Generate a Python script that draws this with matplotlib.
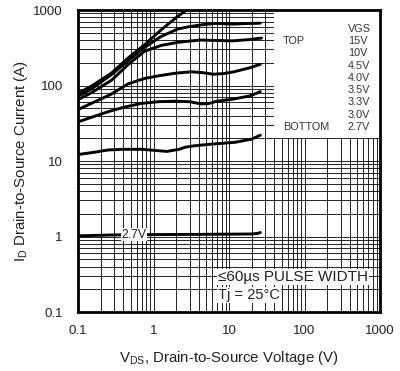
import matplotlib
matplotlib.use("Agg")
import matplotlib.pyplot as plt
from matplotlib.patches import Rectangle
from matplotlib.ticker import FixedLocator, FixedFormatter, NullFormatter, LogLocator

plt.rcParams['font.family'] = ['Liberation Sans', 'DejaVu Sans']
plt.rcParams['mathtext.default'] = 'regular'

# curves (VDS in V, ID in A)
v15 = [0.1, 0.15, 0.28, 0.46, 0.76, 1.3, 2.1, 2.75]
i15 = [79, 98, 147, 231, 347, 560, 825, 1000]

v10 = [0.1, 0.15, 0.28, 0.46, 0.76, 1.27, 2.1, 2.9, 4.5, 6.9, 11, 16, 26]
i10 = [72, 90, 140, 213, 320, 448, 560, 600, 640, 666, 650, 660, 670]

v45 = [0.1, 0.15, 0.28, 0.46, 0.76, 1.27, 2.1, 4.1, 7, 11, 18, 27]
i45 = [65, 80, 118, 189, 284, 340, 373, 400, 395, 390, 405, 425]

v40 = [0.1, 0.15, 0.27, 0.46, 0.76, 1.2, 2.0, 3.2, 4.5, 6.2, 8.5, 11.3, 19, 26]
i40 = [48, 58, 76, 105, 124, 135, 146, 152, 148, 141, 144, 151, 172, 191]

v35 = [0.1, 0.25, 0.42, 0.7, 1.16, 1.9, 3.0, 4.3, 5.5, 6.9, 11.3, 19, 26]
i35 = [33, 45, 52, 58, 61, 62, 61, 57, 58, 62, 66, 73, 83]

v33 = [0.1, 0.16, 0.25, 0.4, 0.7, 1.5, 2.2, 2.6, 3.3, 5.3, 12, 20, 26]
i33 = [12.2, 13, 14, 14.3, 14.3, 13.4, 14.3, 15.2, 15.8, 16.6, 17.7, 19.5, 22]

v27 = [0.1, 0.3, 0.95, 5.3, 20, 24, 26]
i27 = [1.02, 1.05, 1.06, 1.07, 1.08, 1.1, 1.13]

curves = [(v15, i15), (v10, i10), (v45, i45), (v40, i40),
          (v35, i35), (v33, i33), (v27, i27)]

vgs_labels = ["15V", "10V", "4.5V", "4.0V", "3.5V", "3.3V", "3.0V", "2.7V"]
decade_ticks = [0.1, 1, 10, 100, 1000]
decade_labels = ["0.1", "1", "10", "100", "1000"]

fig = plt.figure(figsize=(4.0, 3.71), dpi=100)
ax = fig.add_axes([0.195, 0.159, 0.755, 0.814])
ax.set_xscale('log')
ax.set_yscale('log')
ax.set_xlim(0.1, 1000)
ax.set_ylim(0.1, 1000)
ax.set_axisbelow(True)

for v, i in curves:
    ax.plot(v, i, color='black', lw=2.1, zorder=3, solid_capstyle='round')

ax.xaxis.set_major_locator(FixedLocator(decade_ticks))
ax.xaxis.set_major_formatter(FixedFormatter(decade_labels))
ax.yaxis.set_major_locator(FixedLocator(decade_ticks))
ax.yaxis.set_major_formatter(FixedFormatter(decade_labels))
for axis in (ax.xaxis, ax.yaxis):
    axis.set_minor_locator(LogLocator(base=10, subs=range(2, 10), numticks=20))
    axis.set_minor_formatter(NullFormatter())
ax.grid(which='both', color='black', lw=0.6)
ax.tick_params(which='both', length=0, labelsize=9.5, colors='#222222')
ax.tick_params(axis='x', pad=9)
ax.tick_params(axis='y', pad=11)
for s in ax.spines.values():
    s.set_linewidth(2.0)

# white panel for the VGS list
ax.add_patch(Rectangle((39.6, 20.2), 1000 - 39.6, 1000 - 20.2,
                       facecolor='white', edgecolor='none', zorder=1))
tc = '#333333'
ax.text(0.894, 0.937, "VGS", transform=ax.transAxes, fontsize=7.8,
        color=tc, va='center', ha='left', zorder=4)
row0 = 0.897
step = 12.25 / 302
for k, lab in enumerate(vgs_labels):
    ax.text(0.894, row0 - k * step, lab, transform=ax.transAxes, fontsize=7.8,
            color=tc, va='center', ha='left', zorder=4)
ax.text(0.679, row0, "TOP", transform=ax.transAxes, fontsize=7.8,
        color=tc, va='center', ha='left', zorder=4)
ax.text(0.679, row0 - 7 * step, "BOTTOM", transform=ax.transAxes, fontsize=7.8,
        color=tc, va='center', ha='left', zorder=4)

# inline label on the lowest curve
ax.text(0.55, 1.06, "2.7V", fontsize=8.8, color='#222222', ha='center',
        va='center', zorder=4,
        bbox=dict(facecolor='white', edgecolor='none', pad=0.6))

ax.text(0.464, 0.116, "\u226460\u00b5s PULSE WIDTH", transform=ax.transAxes,
        fontsize=11, color='#222222', ha='left', va='center', zorder=4,
        bbox=dict(facecolor='white', edgecolor='none', pad=0.8))
ax.text(0.464, 0.056, "Tj = 25\u00b0C", transform=ax.transAxes,
        fontsize=10.5, color='#222222', ha='left', va='center', zorder=4,
        bbox=dict(facecolor='white', edgecolor='none', pad=0.8))

ax.set_xlabel(r"V$_{DS}$, Drain-to-Source Voltage (V)", fontsize=10.8,
              color='#222222')
ax.set_ylabel(r"I$_{D}$ Drain-to-Source Current (A)", fontsize=10.8,
              color='#222222')
ax.xaxis.set_label_coords(0.5, -0.123)
ax.yaxis.set_label_coords(-0.159, 0.5)

fig.savefig("out.png", dpi=100)
